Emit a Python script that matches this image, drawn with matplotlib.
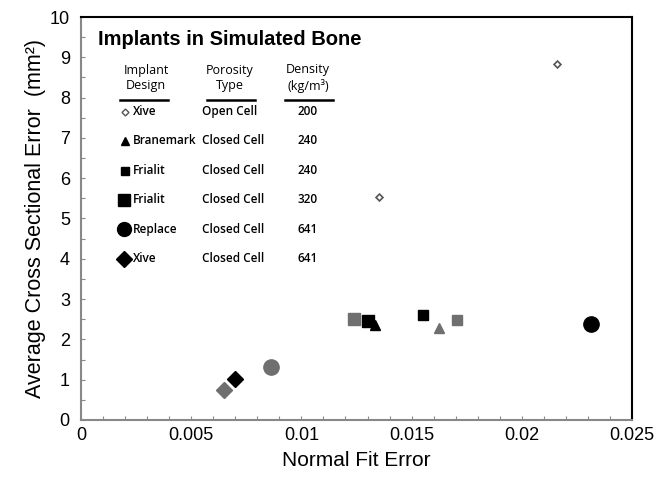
import matplotlib.pyplot as plt
from matplotlib.ticker import MultipleLocator

plt.rcParams['font.family'] = ['Liberation Sans', 'DejaVu Sans']

# Точки: первая — чёрная, вторая — серая
xive_open_x = [0.0135, 0.0216]
xive_open_y = [5.53, 8.83]
branemark_x = [0.01335, 0.01624]
branemark_y = [2.36, 2.28]
frialit240_x = [0.01551, 0.01705]
frialit240_y = [2.60, 2.48]
frialit320_x = [0.01302, 0.01238]
frialit320_y = [2.46, 2.51]
replace_x = [0.02314, 0.00864]
replace_y = [2.38, 1.31]
xive641_x = [0.00698, 0.00649]
xive641_y = [1.02, 0.74]

designs = ['Xive', 'Branemark', 'Frialit', 'Frialit', 'Replace', 'Xive']
porosity = ['Open Cell', 'Closed Cell', 'Closed Cell', 'Closed Cell', 'Closed Cell', 'Closed Cell']
density = ['200', '240', '240', '320', '641', '641']

BLACK = '#000000'
GRAY = '#6f6f6f'
TBL_FONT = ['Open Sans', 'DejaVu Sans']

fig = plt.figure(figsize=(6.72, 4.79), dpi=100)
ax = fig.add_axes([0.1205, 0.1232, 0.82, 0.8413])

# открытые ромбы
ax.plot(xive_open_x, xive_open_y, 'D', ms=3.5, mfc='white', mec='#555555', mew=1.2)

series = [
    (branemark_x, branemark_y, '^', 7),
    (frialit240_x, frialit240_y, 's', 6.5),
    (frialit320_x, frialit320_y, 's', 9),
    (replace_x, replace_y, 'o', 11),
    (xive641_x, xive641_y, 'D', 8.5),
]
for xs, ys, m, ms in series:
    ax.plot(xs[1], ys[1], m, ms=ms, color=GRAY, mec=GRAY)
    ax.plot(xs[0], ys[0], m, ms=ms, color=BLACK, mec=BLACK)

ax.set_xlim(0, 0.025)
ax.set_ylim(0, 10)
ax.xaxis.set_minor_locator(MultipleLocator(0.001))
ax.yaxis.set_major_locator(MultipleLocator(1))
ax.yaxis.set_minor_locator(MultipleLocator(0.5))
ax.set_xticks([0, 0.005, 0.01, 0.015, 0.02, 0.025])
ax.set_xticklabels(['0', '0.005', '0.01', '0.015', '0.02', '0.025'])
ax.tick_params(which='both', direction='in', color='#888888', length=3, width=0.8,
               labelsize=13, top=False, right=False)
ax.tick_params(axis='x', pad=5)
ax.tick_params(axis='y', pad=8)

for s in ['left', 'bottom']:
    ax.spines[s].set_color('#888888')
    ax.spines[s].set_linewidth(1.5)
for s in ['top', 'right']:
    ax.spines[s].set_color('black')
    ax.spines[s].set_linewidth(1.5)

ax.set_xlabel('Normal Fit Error', fontsize=15, labelpad=5)
ax.set_ylabel('Average Cross Sectional Error  (mm²)', fontsize=15.5, labelpad=3)

# таблица-легенда
tr = ax.transAxes
ax.text(0.031, 0.943, 'Implants in Simulated Bone', transform=tr, fontsize=14.5,
        fontweight='bold', va='center', ha='left')
hdr = dict(transform=tr, fontsize=9, ha='center', va='center', linespacing=1.25,
           family=TBL_FONT)
ax.text(0.118, 0.849, 'Implant\nDesign', **hdr)
ax.text(0.270, 0.849, 'Porosity\nType', **hdr)
ax.text(0.412, 0.849, 'Density\n(kg/m³)', **hdr)
for x0, x1 in [(0.071, 0.158), (0.229, 0.316), (0.370, 0.457)]:
    ax.plot([x0, x1], [0.794, 0.794], color='black', lw=1.8, transform=tr)

cell = dict(transform=tr, fontsize=8.5, va='center', family=TBL_FONT, fontweight='semibold')
row_y = [0.765, 0.693, 0.619, 0.546, 0.473, 0.400]
row_marker = [('D', 3.5), ('^', 5.5), ('s', 5.5), ('s', 8), ('o', 10), ('D', 8)]
for i, (y, (m, ms)) in enumerate(zip(row_y, row_marker)):
    if i == 0:
        ax.plot(0.08, y, m, ms=ms, mfc='white', mec='#555555', mew=1.0, transform=tr)
    else:
        ax.plot(0.08 - 0.002 * (i >= 3), y, m, ms=ms, color='black', transform=tr)
    ax.text(0.094, y, designs[i], ha='left', **cell)
    ax.text(0.22, y, porosity[i], ha='left', **cell)
    ax.text(0.412, y, density[i], ha='center', **cell)

plt.savefig('out.png', dpi=100)
